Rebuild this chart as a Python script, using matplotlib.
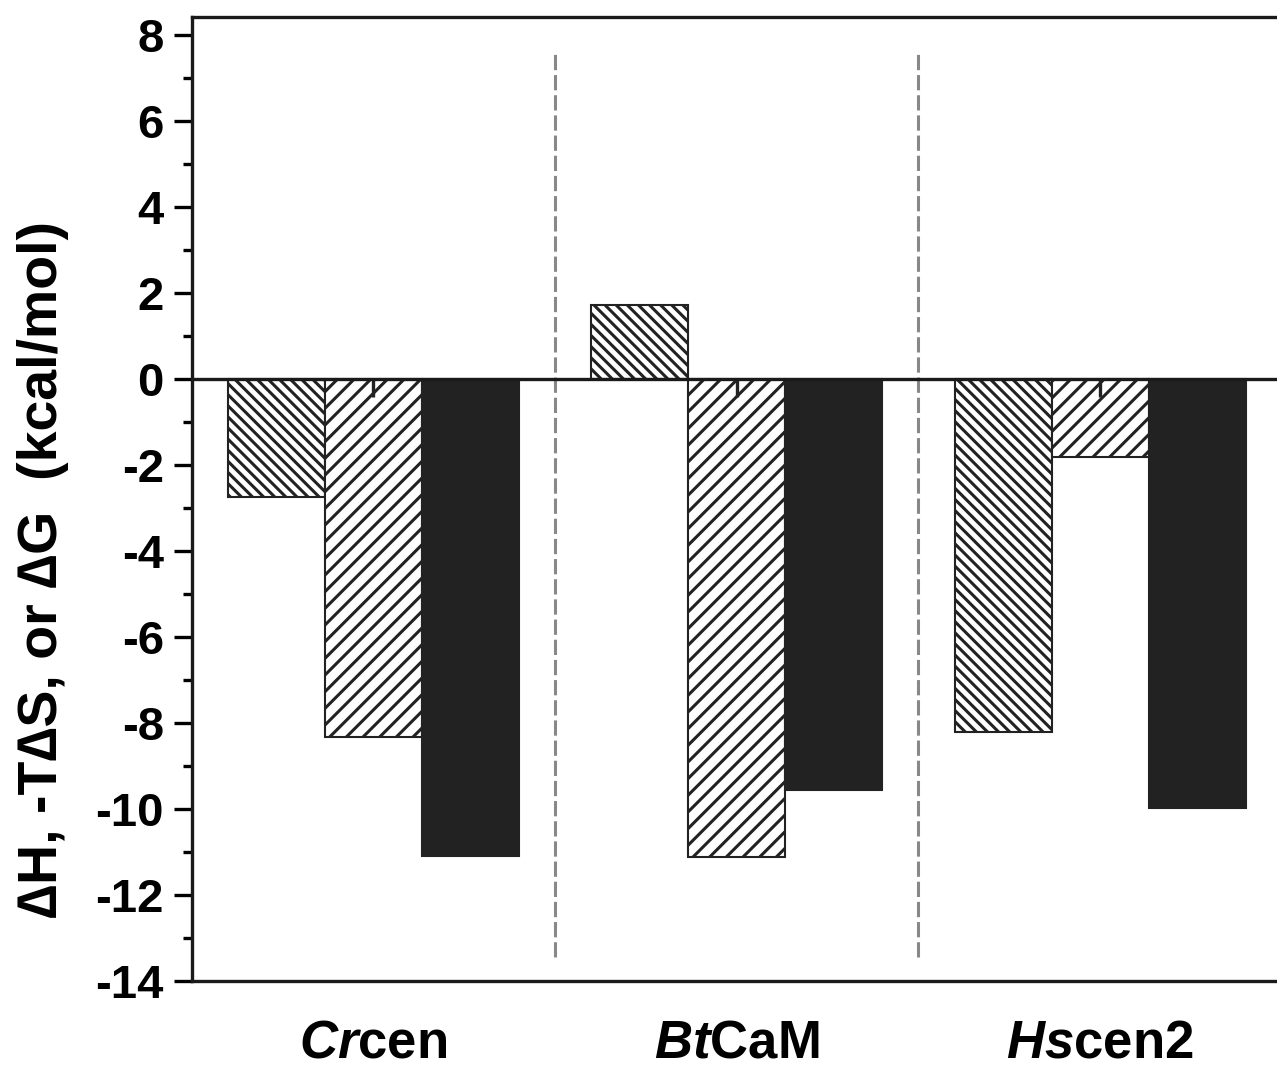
import numpy as np
import matplotlib
matplotlib.use('Agg')
import matplotlib.pyplot as plt
from matplotlib.ticker import MultipleLocator

# Data (kcal/mol)
proteins = ['Crcen', 'BtCaM', 'Hscen2']
labels = [r'$\mathbfit{Cr}$cen', r'$\mathbfit{Bt}$CaM', r'$\mathbfit{Hs}$cen2']
dH = [-2.74, 1.72, -8.21]
mTdS = [-8.33, -11.12, -1.81]
dG = [-11.09, -9.56, -9.98]
err_tds = [0.42, 0.42, 0.42]

# General style
plt.rcParams.update({'font.family': 'Liberation Sans',
                     'font.weight': 'bold',
                     'axes.labelweight': 'bold', 'axes.unicode_minus': False,
                     'font.size': 34, 'hatch.linewidth': 2.2,
                     'mathtext.fontset': 'custom',
                     'mathtext.bfit': 'Liberation Sans:italic:bold',
                     'mathtext.rm': 'Liberation Sans:bold'})

fig = plt.figure(figsize=(12.77, 10.72), dpi=100)
ax = fig.add_axes([0.150, 0.0849, 0.8538, 0.8988])

x = np.arange(len(proteins))
w = 0.267

ax.bar(x - w, dH, w, color='white', edgecolor='#222222', hatch='\\\\\\', linewidth=1.5, zorder=2)
ax.bar(x, mTdS, w, color='white', edgecolor='#222222', hatch='//', linewidth=1.5, zorder=2)
ax.bar(x + w, dG, w, color='#222222', edgecolor='#222222', linewidth=1.5, zorder=2)
ax.vlines(x, 0, -np.array(err_tds), color='#222222', linewidth=2.4, zorder=3)

ax.axhline(0, color='#1a1a1a', linewidth=2.4, zorder=4)
ax.vlines(x[:-1] + 0.5, -13.45, 7.65, color='#888888', linewidth=2.2,
          linestyle=(0, (5, 1.6)), zorder=1)

ax.set_xlim(-0.5, 2.5)
ax.set_ylim(-14, 8.4)
ax.yaxis.set_major_locator(MultipleLocator(2))
ax.yaxis.set_minor_locator(MultipleLocator(1))
ax.tick_params(axis='y', which='major', direction='out', length=13, width=2.4, pad=7)
ax.tick_params(axis='y', which='minor', direction='out', length=6.5, width=2.4)
ax.set_xticks(x)
ax.set_xticklabels(labels, fontsize=38)
ax.tick_params(axis='x', length=0, pad=27)
for s in ax.spines.values():
    s.set_linewidth(2.4)
    s.set_color('#1a1a1a')

ax.set_ylabel('\u2206H, -T\u2206S, or \u2206G  (kcal/mol)', fontsize=40)
ax.yaxis.set_label_coords(-0.112, 0.427)

fig.savefig('out.png', dpi=100)
